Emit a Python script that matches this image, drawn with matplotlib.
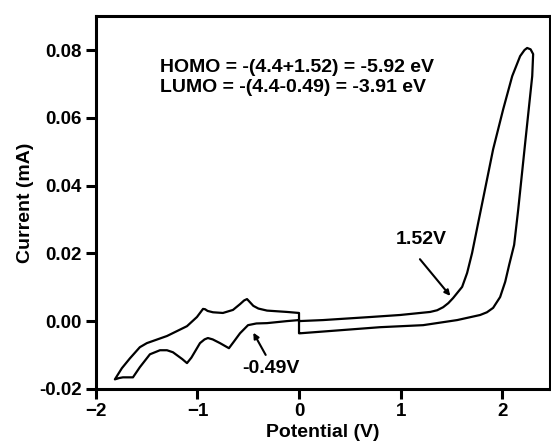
import numpy as np
import matplotlib.pyplot as plt

plt.rcParams['font.family'] = ['Liberation Sans', 'DejaVu Sans']

# negative scan loop (0 -> -1.8 -> 0)
neg_top_x = [0.0, 0.0, -0.118, -0.315, -0.400, -0.450, -0.490, -0.512, -0.540, -0.581, -0.650,
             -0.749, -0.847, -0.900, -0.925, -0.945, -0.970, -1.005, -1.103, -1.300, -1.498,
             -1.567, -1.665, -1.744, -1.813]
neg_top_y = [0.0003, 0.0024, 0.0027, 0.0031, 0.0037, 0.0045, 0.0058, 0.0065, 0.0061, 0.0050, 0.0033,
             0.0024, 0.0026, 0.0030, 0.0035, 0.0036, 0.0026, 0.0012, -0.0015, -0.0044, -0.0065,
             -0.0077, -0.0110, -0.0139, -0.0172]
neg_bot_x = [-1.813, -1.770, -1.734, -1.635, -1.567, -1.468, -1.369, -1.300, -1.241, -1.150, -1.103,
             -1.060, -0.975, -0.930, -0.897, -0.850, -0.778, -0.690, -0.640, -0.581, -0.502,
             -0.420, -0.315, -0.118, 0.0]
neg_bot_y = [-0.0172, -0.0168, -0.0166, -0.0166, -0.0136, -0.0098, -0.0086, -0.0086, -0.0092, -0.0112, -0.0124,
             -0.0108, -0.0065, -0.0054, -0.0050, -0.0054, -0.0065, -0.0080, -0.0060, -0.0036, -0.0012,
             -0.0007, -0.0006, 0.0, 0.0003]

# positive scan loop (0 -> 2.3 -> 0)
pos_fwd_x = [0.0, 0.236, 0.700, 0.995, 1.291, 1.360, 1.419, 1.470, 1.517, 1.606, 1.655, 1.704,
             1.764, 1.813, 1.911, 2.010, 2.099, 2.177, 2.220, 2.246, 2.280, 2.305]
pos_fwd_y = [0.0, 0.0003, 0.0012, 0.0018, 0.0027, 0.0032, 0.0041, 0.0053, 0.0068, 0.0101, 0.0142, 0.0201,
             0.0290, 0.0362, 0.0507, 0.0625, 0.0723, 0.0782, 0.0800, 0.0806, 0.0802, 0.0788]
pos_rev_x = [2.305, 2.296, 2.227, 2.158, 2.118, 2.069, 2.030, 1.980, 1.911, 1.850, 1.783, 1.557,
             1.222, 0.798, 0.404, 0.010, 0.0, 0.0]
pos_rev_y = [0.0788, 0.0723, 0.0527, 0.0329, 0.0225, 0.0166, 0.0116, 0.0071, 0.0039, 0.0026, 0.0018, 0.0003,
             -0.0012, -0.0018, -0.0027, -0.0036, -0.0036, -0.0003]

fig = plt.figure(figsize=(5.51, 4.48), dpi=100)
ax = fig.add_axes([0.174, 0.132, 0.824, 0.832])

ax.plot(neg_top_x + neg_bot_x, neg_top_y + neg_bot_y, color='black', lw=1.6)
ax.plot(pos_fwd_x + pos_rev_x, pos_fwd_y + pos_rev_y, color='black', lw=1.6)

ax.set_xlim(-2, 2.47)
ax.set_ylim(-0.02, 0.09)
ax.set_xticks([-2, -1, 0, 1, 2])
ax.set_yticks([-0.02, 0.0, 0.02, 0.04, 0.06, 0.08])
ax.set_yticklabels(['-0.02', '0.00', '0.02', '0.04', '0.06', '0.08'])
for lab in ax.get_xticklabels() + ax.get_yticklabels():
    lab.set_fontweight('bold')
    lab.set_fontsize(13.5)
ax.tick_params(direction='out', length=7, width=2.2, pad=3)
for s in ax.spines.values():
    s.set_linewidth(2.2)

ax.set_xlabel('Potential (V)', fontsize=14, fontweight='bold', labelpad=3)
ax.set_ylabel('Current (mA)', fontsize=14, fontweight='bold', labelpad=4)

ax.text(-1.369, 0.0747, 'HOMO = -(4.4+1.52) = -5.92 eV', fontsize=14, fontweight='bold',
        va='center', ha='left')
ax.text(-1.369, 0.0690, 'LUMO = -(4.4-0.49) = -3.91 eV', fontsize=14, fontweight='bold',
        va='center', ha='left')

ax.annotate('', xy=(1.507, 0.0068), xytext=(1.173, 0.0189),
            arrowprops=dict(arrowstyle='-|>', color='black', lw=1.5, mutation_scale=8))
ax.text(1.20, 0.024, '1.52V', fontsize=14, fontweight='bold', ha='center', va='center')

ax.annotate('', xy=(-0.463, -0.0027), xytext=(-0.315, -0.0107),
            arrowprops=dict(arrowstyle='-|>', color='black', lw=1.5, mutation_scale=8))
ax.text(-0.276, -0.0139, '-0.49V', fontsize=14, fontweight='bold', ha='center', va='center')

plt.savefig('out.png', dpi=100)
